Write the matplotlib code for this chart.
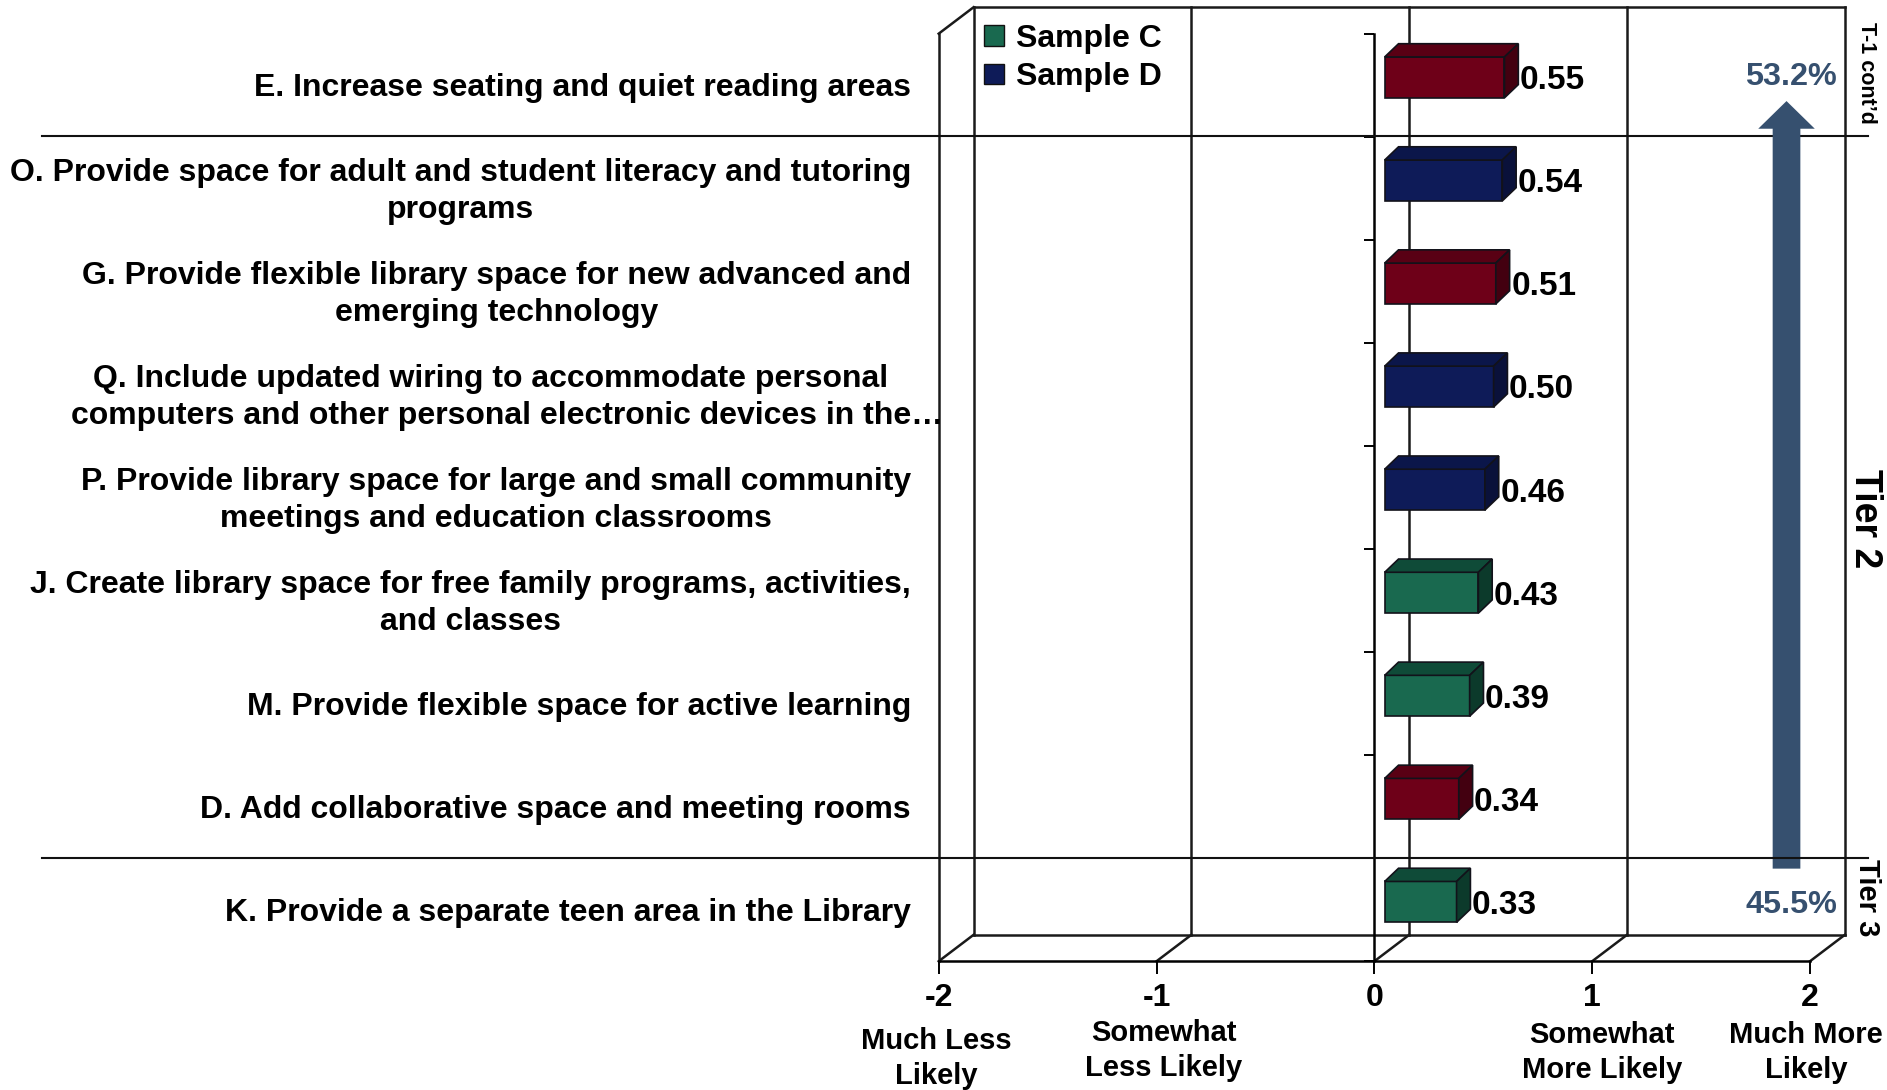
import matplotlib
matplotlib.use("Agg")
import matplotlib.pyplot as plt
from matplotlib.patches import Patch
from matplotlib.transforms import blended_transform_factory

plt.rcParams['font.family'] = ['Liberation Sans', 'DejaVu Sans']
plt.rcParams['font.weight'] = 'bold'

labels = ["E. Increase seating and quiet reading areas",
          "O. Provide space for adult and student literacy and tutoring\nprograms",
          "G. Provide flexible library space for new advanced and\nemerging technology",
          "Q. Include updated wiring to accommodate personal\ncomputers and other personal electronic devices in the\u2026",
          "P. Provide library space for large and small community\nmeetings and education classrooms",
          "J. Create library space for free family programs, activities,\nand classes",
          "M. Provide flexible space for active learning",
          "D. Add collaborative space and meeting rooms",
          "K. Provide a separate teen area in the Library"]
values = [0.55, 0.54, 0.51, 0.50, 0.46, 0.43, 0.39, 0.34, 0.33]
samples = ["R", "D", "R", "D", "D", "C", "C", "R", "C"]
x_ticks = [-2, -1, 0, 1, 2]
x_captions = ["Much Less\nLikely", "Somewhat\nLess Likely", "", "Somewhat\nMore Likely", "Much More\nLikely"]

# front, top, side
colors = {"C": ("#19694F", "#0F4B38", "#0C3A2B"),
          "D": ("#0E1B58", "#0B164A", "#0A113A"),
          "R": ("#6E0018", "#590014", "#430010")}
arrow_color = "#36506F"
W, H = 1568, 906  # overlay works in the coordinates of the shrunk view

fig = plt.figure(figsize=(18.87, 10.90), dpi=100)
ax = fig.add_axes([780/W, 1-799/H, (1504-780)/W, (799-28)/H])
ax.set_xlim(-2, 2)
ax.set_ylim(8.5, -0.5)
ax.patch.set_visible(False)

over = fig.add_axes([0, 0, 1, 1], zorder=5)
over.set_xlim(0, W)
over.set_ylim(H, 0)
over.axis('off')

# 3d box of the chart
wall_dx = 29/181
wall_dy = 22/85.67
ln = dict(color="#1a1a1a", lw=1.8, clip_on=False, zorder=1)
bottom, top = 8.5, -0.5
for t in x_ticks:
    ax.plot([t + wall_dx, t + wall_dx], [bottom - wall_dy, top - wall_dy], **ln)
    ax.plot([t, t + wall_dx], [bottom, bottom - wall_dy], **ln)
ax.plot([-2 + wall_dx, 2 + wall_dx], [bottom - wall_dy]*2, **ln)
ax.plot([-2 + wall_dx, 2 + wall_dx], [top - wall_dy]*2, **ln)
ax.plot([-2, -2], [bottom, top], **ln)
ax.plot([-2, -2 + wall_dx], [top, top - wall_dy], **ln)

# axes through zero, ticks between the rows
for s in ['top', 'right']:
    ax.spines[s].set_visible(False)
ax.spines['left'].set_position(('data', 0))
ax.spines['left'].set_linewidth(1.8)
ax.spines['bottom'].set_linewidth(1.8)
ax.set_yticks([i - 0.5 for i in range(10)])
ax.set_yticklabels([])
ax.tick_params(axis='y', length=7, width=1.4, color='black')
ax.set_xticks(x_ticks, [str(t) for t in x_ticks], fontsize=23, fontweight='bold')
ax.tick_params(axis='x', length=9, width=1.4, pad=7, color='black')

# bars
bar_x0 = 8.6/181
bar_h = 34/85.67
bar_up = 6.5/85.67
dep_x = 11.5/181
dep_y = 11/85.67
for i, (v, s) in enumerate(zip(values, samples)):
    front, tp, side = colors[s]
    y0 = i - bar_up + bar_h/2
    y1 = i - bar_up - bar_h/2
    x1 = bar_x0 + v
    edge = dict(edgecolor="#12121a", linewidth=1.2, zorder=3)
    ax.barh(i - bar_up, v, height=bar_h, left=bar_x0, color=front, **edge)
    ax.fill([bar_x0, x1, x1 + dep_x, bar_x0 + dep_x], [y1, y1, y1 - dep_y, y1 - dep_y], color=tp, **edge)
    ax.fill([x1, x1 + dep_x, x1 + dep_x, x1], [y0, y0 - dep_y, y1 - dep_y, y1], color=side, **edge)
    ax.text(x1 + dep_x + 0.007, i - bar_up + 0.033, "%.2f" % v, fontsize=24, va='center', ha='left', zorder=4)

# category labels, the y comes from the row
row_tr = blended_transform_factory(over.transData, ax.transData)
for i, lab in enumerate(labels):
    if lab.startswith("Q."):
        first, second = lab.split("\n")
        over.text(408, i - 0.15, first, transform=row_tr, fontsize=23, ha='center', va='center')
        over.text(421, i + 0.21, second, transform=row_tr, fontsize=23, ha='center', va='center')
    else:
        over.text(757, i + 0.03, lab, transform=row_tr, fontsize=23, ha='right', va='center',
                  multialignment='center', linespacing=1.28)

# tier lines and the arrow
over.plot([35, 1552], [113, 113], color="#111111", lw=1.5, zorder=1)
over.fill([1473, 1496, 1496, 1508, 1484.5, 1461, 1473], [722, 722, 107, 107, 84, 107, 107], color=arrow_color, lw=0, zorder=2)
over.plot([35, 1552], [713, 713], color="#111111", lw=1.5, zorder=3)
over.text(1526, 64, "53.2%", color=arrow_color, fontsize=23.3, ha='right', va='center')
over.text(1527, 752.5, "45.5%", color=arrow_color, fontsize=23.3, ha='right', va='center')

# tier names
over.text(1551, 61, "T-1 cont\u2019d", fontsize=15.5, rotation=270, ha='center', va='center')
over.text(1550, 431, "Tier 2", fontsize=27, rotation=270, ha='center', va='center')
over.text(1551, 746, "Tier 3", fontsize=21, rotation=270, ha='center', va='center')

# captions under the ticks
cap_x = [778, 967, 0, 1331, 1501]
cap_y = [880, 873, 0, 875, 875]
for x, y, c in zip(cap_x, cap_y, x_captions):
    if c:
        over.text(x, y, c, fontsize=21, ha='center', va='center', linespacing=1.3)

handles = [Patch(facecolor=colors["C"][0], edgecolor="#111111", label="Sample C"),
           Patch(facecolor=colors["D"][0], edgecolor="#111111", label="Sample D")]
over.legend(handles=handles, loc='upper left', bbox_to_anchor=(818/W, 1-20/H), frameon=False,
            fontsize=23, handlelength=0.62, handleheight=0.62, handletextpad=0.38,
            labelspacing=0.26, borderpad=0, borderaxespad=0)

fig.savefig("out.png", dpi=100)
